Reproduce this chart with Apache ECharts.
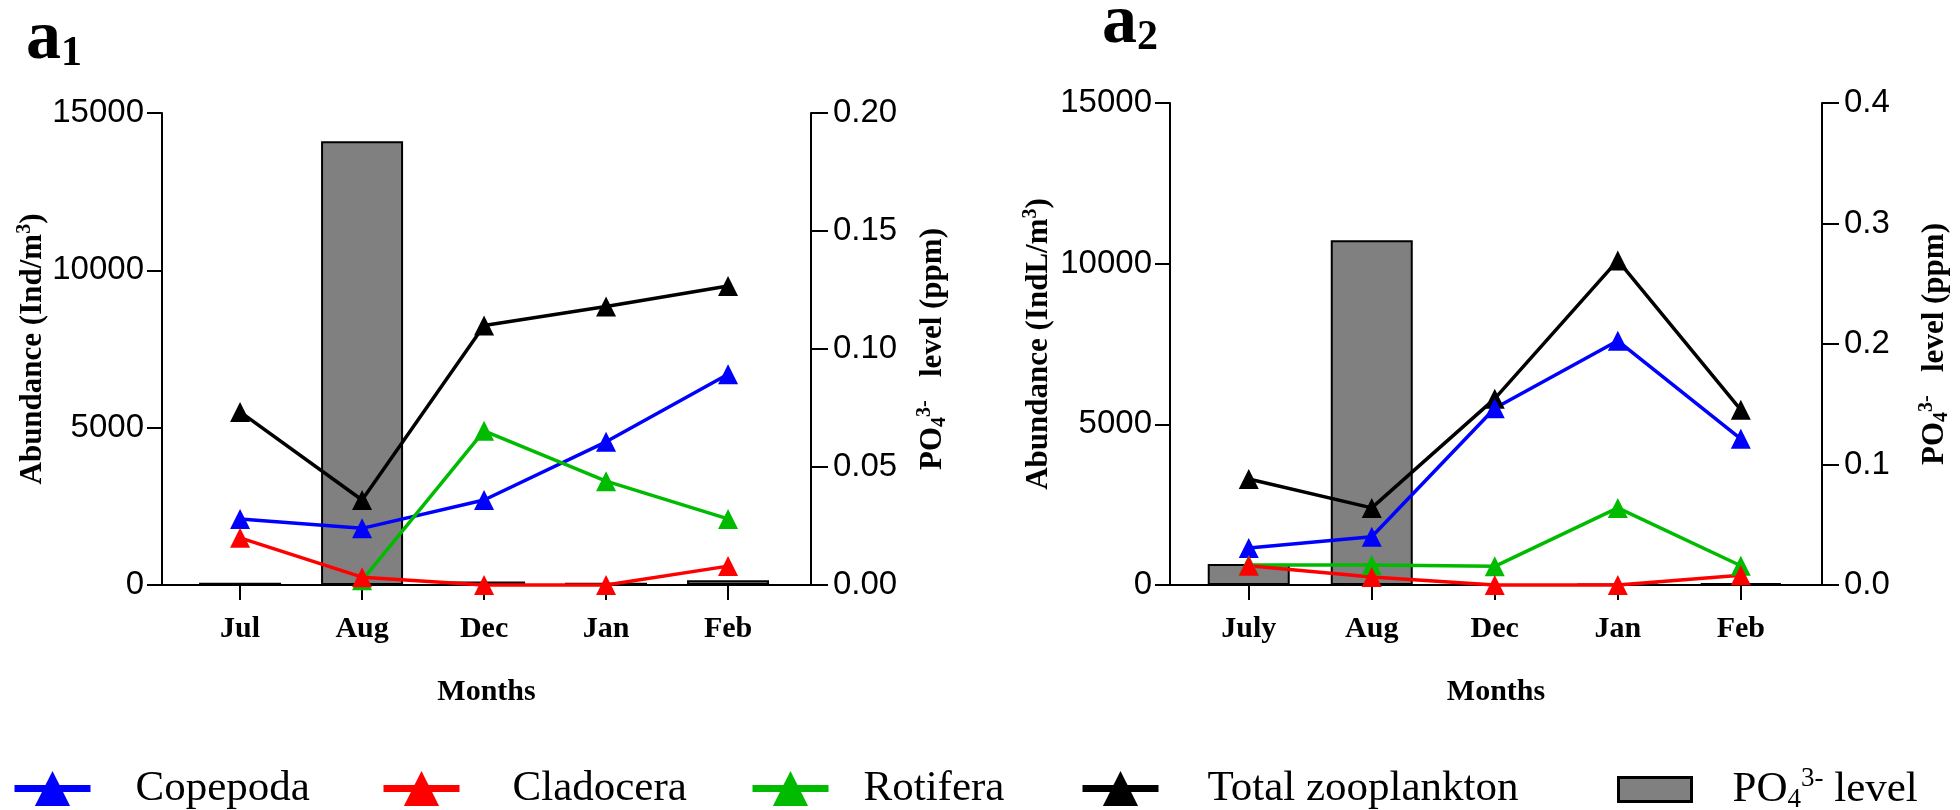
<!DOCTYPE html>
<html><head><meta charset="utf-8">
<script src="https://cdn.jsdelivr.net/npm/echarts@6/dist/echarts.min.js"></script>
<style>html,body{margin:0;padding:0;background:#fff}#c{width:1960px;height:810px}</style>
</head><body><div id="c"></div>
<script>
// ---------- data ----------
const months1 = ['Jul', 'Aug', 'Dec', 'Jan', 'Feb'];
const months2 = ['July', 'Aug', 'Dec', 'Jan', 'Feb'];

const a1Copepoda  = [2100, 1800, 2700, 4550, 6700];
const a1Cladocera = [1500, 250, 0, 0, 600];
const a1Rotifera  = [null, 150, 4900, 3300, 2100];
const a1Total     = [5500, 2700, 8250, 8850, 9500];
const a1PO4       = [0.001, 0.188, 0.0015, 0.001, 0.002];

const a2Copepoda  = [1150, 1500, 5500, 7600, 4550];
const a2Cladocera = [600, 250, 0, 0, 300];
const a2Rotifera  = [620, 620, 580, 2400, 600];
const a2Total     = [3300, 2400, 5800, 10100, 5450];
const a2PO4       = [0.0175, 0.286, 0, 0.001, 0.0015];

const abundanceAxis = {min: 0, max: 15000, interval: 5000};
const po4Axis1 = {min: 0, max: 0.2, interval: 0.05, digits: 2};
const po4Axis2 = {min: 0, max: 0.4, interval: 0.1, digits: 1};

// ---------- style ----------
const SERIF = "'Liberation Serif','Times New Roman',serif";
const SANS = "'Liberation Sans',Arial,sans-serif";
const COLORS = {Copepoda: '#0000ff', Cladocera: '#ff0000', Rotifera: '#00bb00', 'Total zooplankton': '#000000'};
const BAR_NAME = 'PO4 level';

const pts = arr => arr.map((v, i) => [i, v]);
const catIdx = [0, 1, 2, 3, 4];

const nameRich = {
  t: {fontFamily: SERIF, fontWeight: 'bold', fontSize: 31, color: '#000'},
  sup: {fontFamily: SERIF, fontWeight: 'bold', fontSize: 20, color: '#000', padding: [0, 0, 15, 0]},
  sub: {fontFamily: SERIF, fontWeight: 'bold', fontSize: 20, color: '#000', padding: [15, 0, 0, 0]}
};

function xAxis(gi, months, min, max) {
  return {
    type: 'value', gridIndex: gi, min: min, max: max,
    axisLine: {show: true, onZero: false, lineStyle: {color: '#000', width: 2}},
    axisTick: {show: true, length: 15, customValues: catIdx, lineStyle: {color: '#000', width: 2}},
    axisLabel: {customValues: catIdx, formatter: v => months[Math.round(v)], margin: 29,
      color: '#000', fontFamily: SERIF, fontWeight: 'bold', fontSize: 30},
    splitLine: {show: false},
    name: 'Months', nameLocation: 'middle', nameGap: 92,
    nameTextStyle: {fontFamily: SERIF, fontWeight: 'bold', fontSize: 30, color: '#000'}
  };
}
function leftAxis(gi, name, gap) {
  return {
    type: 'value', gridIndex: gi, position: 'left',
    min: abundanceAxis.min, max: abundanceAxis.max, interval: abundanceAxis.interval,
    axisLine: {show: true, onZero: false, lineStyle: {color: '#000', width: 2}},
    axisTick: {show: true, length: 15, lineStyle: {color: '#000', width: 2}},
    axisLabel: {margin: 18, color: '#000', fontFamily: SANS, fontSize: 33, formatter: v => String(v)},
    splitLine: {show: false},
    name: name, nameLocation: 'middle', nameGap: gap, nameRotate: 90,
    nameTextStyle: {rich: nameRich}
  };
}
function rightAxis(gi, ax, gap) {
  return {
    type: 'value', gridIndex: gi, position: 'right',
    min: ax.min, max: ax.max, interval: ax.interval,
    axisLine: {show: true, onZero: false, lineStyle: {color: '#000', width: 2}},
    axisTick: {show: true, length: 17, lineStyle: {color: '#000', width: 2}},
    axisLabel: {margin: 22, color: '#000', fontFamily: SANS, fontSize: 33, formatter: v => v.toFixed(ax.digits)},
    splitLine: {show: false},
    name: '{t|PO}{sub|4}{sup|3-}{t|   level (ppm)}', nameLocation: 'middle', nameGap: gap, nameRotate: 90,
    nameTextStyle: {rich: nameRich}
  };
}
function lineSeries(name, data, gi) {
  return {
    type: 'line', name: name, xAxisIndex: gi, yAxisIndex: gi * 2, data: pts(data),
    symbol: 'triangle', symbolSize: 20, clip: false, connectNulls: false,
    lineStyle: {color: COLORS[name], width: 3.5}, itemStyle: {color: COLORS[name]},
    emphasis: {disabled: true}
  };
}
function barSeries(data, gi) {
  return {
    type: 'bar', name: BAR_NAME, xAxisIndex: gi, yAxisIndex: gi * 2 + 1, data: pts(data),
    barWidth: 82, itemStyle: {color: '#808080', borderColor: '#000', borderWidth: 2},
    emphasis: {disabled: true}
  };
}
function legend(name, left, pad, extra) {
  return Object.assign({
    data: [name], left: left, top: 762, orient: 'horizontal', selectedMode: false,
    itemWidth: 76, itemHeight: 44,
    lineStyle: {width: 7},
    textStyle: {fontFamily: SERIF, fontSize: 43, color: '#000', padding: [0, 0, 0, pad]}
  }, extra || {});
}
const titleRich = {
  a: {fontFamily: SERIF, fontWeight: 'bold', fontSize: 70, color: '#000', lineHeight: 70, verticalAlign: 'bottom'},
  s: {fontFamily: SERIF, fontWeight: 'bold', fontSize: 42, color: '#000', lineHeight: 70, verticalAlign: 'bottom'}
};

const option = {
  animation: false,
  backgroundColor: '#fff',
  title: [
    {text: '{a|a}{s|1}', left: 26, top: 5, padding: 0, textStyle: {rich: titleRich}},
    {text: '{a|a}{s|2}', left: 1102, top: -11, padding: 0, textStyle: {rich: titleRich}}
  ],
  grid: [
    {left: 162, top: 113, width: 649, height: 472},
    {left: 1170, top: 103, width: 652, height: 482}
  ],
  xAxis: [xAxis(0, months1, -0.64, 4.68), xAxis(1, months2, -0.64, 4.66)],
  yAxis: [
    leftAxis(0, '{t|Abundance (Ind/m}{sup|3}{t|)}', 112),
    rightAxis(0, po4Axis1, 104),
    leftAxis(1, '{t|Abundance (IndL/m}{sup|3}{t|)}', 114),
    rightAxis(1, po4Axis2, 95)
  ],
  legend: [
    legend('Copepoda', 6, 40),
    legend('Cladocera', 375, 48),
    legend('Rotifera', 744, 30),
    legend('Total zooplankton', 1074, 44),
    legend(BAR_NAME, 1612, 36, {
      icon: 'rect', itemWidth: 73, itemHeight: 24, top: 760,
      itemStyle: {borderWidth: 3, borderColor: '#000', color: '#808080'},
      formatter: () => '{n|PO}{sub|4}{sup|3-}{n| level}',
      textStyle: {fontFamily: SERIF, fontSize: 43, color: '#000', padding: [0, 0, 0, 36],
        rich: {n: {fontFamily: SERIF, fontSize: 43, color: '#000'},
               sub: {fontFamily: SERIF, fontSize: 27, color: '#000', padding: [20, 0, 0, 0]},
               sup: {fontFamily: SERIF, fontSize: 27, color: '#000', padding: [0, 0, 22, 0]}}}
    })
  ],
  series: [
    barSeries(a1PO4, 0),
    lineSeries('Total zooplankton', a1Total, 0),
    lineSeries('Copepoda', a1Copepoda, 0),
    lineSeries('Rotifera', a1Rotifera, 0),
    lineSeries('Cladocera', a1Cladocera, 0),
    barSeries(a2PO4, 1),
    lineSeries('Total zooplankton', a2Total, 1),
    lineSeries('Copepoda', a2Copepoda, 1),
    lineSeries('Rotifera', a2Rotifera, 1),
    lineSeries('Cladocera', a2Cladocera, 1)
  ]
};
const chart = echarts.init(document.getElementById('c'), null, {renderer: 'canvas'});
chart.setOption(option);
</script></body></html>
